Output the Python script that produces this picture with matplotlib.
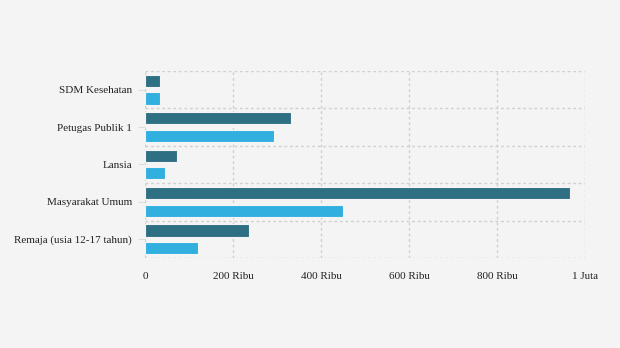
import numpy as np
import matplotlib
matplotlib.use("Agg")
import matplotlib.pyplot as plt
from matplotlib.ticker import FuncFormatter

# data (people)
kategori = ["SDM Kesehatan", "Petugas Publik 1", "Lansia", "Masyarakat Umum", "Remaja (usia 12-17 tahun)"]
dosis_1 = [34000, 332000, 73000, 966000, 236000]
dosis_2 = [34000, 293000, 45000, 450000, 120000]
x_ticks = [0, 200000, 400000, 600000, 800000, 1000000]

plt.rcParams['font.family'] = ['Liberation Serif', 'DejaVu Serif']

bg = '#f4f4f4'
fig = plt.figure(figsize=(6.2, 3.48), dpi=100, facecolor=bg)
ax = fig.add_axes([0.2339, 0.2586, 0.71, 0.5374], facecolor=bg)

y = np.arange(len(kategori))
off = 0.235
h = 0.33
ax.barh(y - off, dosis_1, height=h, color='#2f6f84', edgecolor='#f4f4f4', linewidth=0.8, zorder=3)
ax.barh(y + off, dosis_2, height=h, color='#31b0e0', edgecolor='#f4f4f4', linewidth=0.8, zorder=3)

ax.set_ylim(len(kategori) - 0.5, -0.5)
ax.set_xlim(0, 1000000)
ax.set_yticks(y)
ax.set_yticklabels(kategori, fontsize=8, color='#222222', va='center_baseline')
ax.set_yticks(np.arange(-0.5, len(kategori)), minor=True)
ax.set_xticks(x_ticks)

def fmt(v, pos):
    if v == 0:
        return '0'
    if v >= 1000000:
        return '%g Juta' % (v / 1000000)
    return '%g Ribu' % (v / 1000)

ax.xaxis.set_major_formatter(FuncFormatter(fmt))
ax.tick_params(axis='x', length=0, pad=10, labelsize=8, labelcolor='#222222')
ax.tick_params(axis='y', which='major', length=5, color='#dddddd', pad=4.4)
ax.tick_params(axis='y', which='minor', length=0)

ax.grid(axis='x', which='major', color='#d0d0d0', linestyle=(0, (2, 2)), linewidth=1, zorder=0)
ax.grid(axis='y', which='minor', color='#d0d0d0', linestyle=(0, (2, 2)), linewidth=1, zorder=0)
for s in ax.spines.values():
    s.set_visible(False)

fig.savefig('out.png', dpi=100, facecolor=bg)
